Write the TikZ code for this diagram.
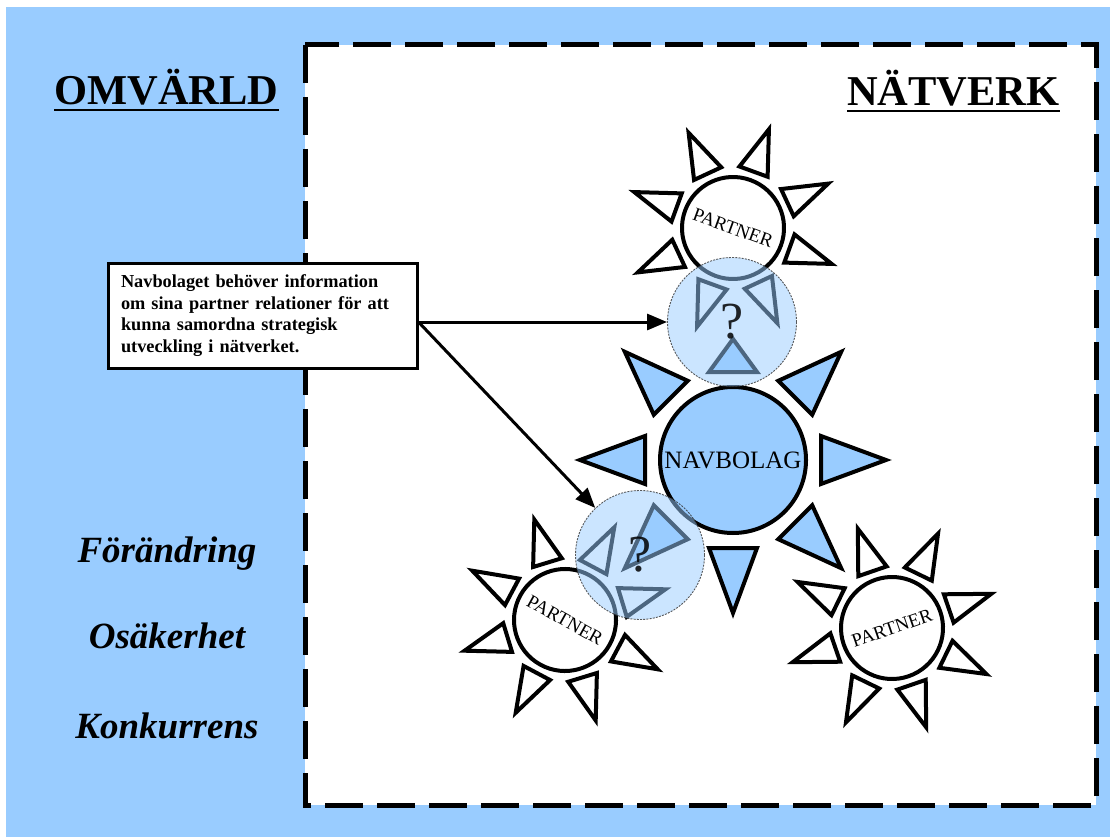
\documentclass[tikz,border=0pt]{standalone}
\usepackage{fontspec}
\setmainfont{Liberation Serif}
\usetikzlibrary{arrows.meta}
\definecolor{sky}{HTML}{99CCFF}

% eight triangular rays around a named circle node:
% #1 node, #2 start angle, #3 base radius, #4 tip radius, #5 half base width, #6 style
\newcommand\sunrays[6]{%
  \foreach \a in {0,45,...,315}{%
    \draw[#6, shift={(#1.center)}, rotate=#2+\a] (#4,0) -- (#3,#5) -- (#3,-#5) -- cycle;}}

\begin{document}
\begin{tikzpicture}[x=1pt,y=-1pt,
  ray/.style={draw=black, line width=4pt, fill=white, line join=miter},
  navray/.style={ray, fill=sky},
  partner/.style={circle, draw, line width=4pt, fill=white, minimum size=102pt,
    inner sep=0pt, font=\fontsize{19}{19}\selectfont},
  hub/.style={circle, draw, line width=4pt, fill=sky, minimum size=146pt,
    inner sep=0pt, font=\fontsize{25}{25}\selectfont},
  query/.style={circle, draw=black!80, line width=0.9pt, dash pattern=on 2pt off 1.2pt,
    fill=sky, fill opacity=0.5, draw opacity=0.8, text opacity=0.85,
    minimum size=129pt, inner sep=0pt, font=\fontsize{52}{52}\selectfont},
  heading/.style={font=\fontsize{42.5}{42.5}\selectfont\bfseries, inner sep=0pt, anchor=base west},
  threat/.style={font=\fontsize{37}{37}\selectfont\bfseries\itshape, inner sep=0pt, anchor=base},
  note/.style={draw, line width=3pt, fill=white, text width=283pt, inner xsep=13pt,
    minimum height=105pt, align=left, font=\fontsize{18.3}{21.7}\selectfont\bfseries},
  link/.style={line width=3pt, -{Triangle[length=20pt,width=16pt]}}
]
\useasboundingbox (0,0) rectangle (1110,837);
\fill[white] (0,0) rectangle (1110,837);
\fill[sky] (6,7) rectangle (1110,837);

% network area
\draw[line width=5pt, dash pattern=on 38pt off 14pt, fill=white] (305,45) rectangle (1096,805);

% headings
\node[heading] (om) at (54,105) {OMVÄRLD};
\node[heading] (nv) at (847,106) {NÄTVERK};
\draw[line width=2pt] ([yshift=-5pt]om.base west) -- ([yshift=-5pt]om.base east);
\draw[line width=2pt] ([yshift=-5pt]nv.base west) -- ([yshift=-5pt]nv.base east);

% environment forces
\node[threat] (f1) at (167,562) {Förändring};
\node[threat] (f2) at (167,648) {Osäkerhet};
\node[threat] (f3) at (167,738) {Konkurrens};

% partners
\node[partner, rotate=-20] (p1) at (733,228) {PARTNER};
\node[partner, rotate=-29] (p2) at (565,620) {PARTNER};
\node[partner, rotate=19]  (p3) at (892,628) {PARTNER};
\sunrays{p1}{25}{60}{105}{15}{ray}
\sunrays{p2}{17}{60}{105}{15}{ray}
\sunrays{p3}{19}{60}{105}{15}{ray}

% hub company
\node[hub] (hub) at (733,460) {NAVBOLAG};
\foreach \a in {0,45,135,180,225,270,315}{%
  \draw[navray, shift={(hub.center)}, rotate=\a] (153,0) -- (88,24) -- (88,-24) -- cycle;}
\draw[navray, shift={(hub.center)}, rotate=90] (121,0) -- (88,24) -- (88,-24) -- cycle;

% unknown partner relations
\node[query] (q1) at (732,322) {?};
\node[query] (q2) at (640,555) {?};

% note and arrows
\node[note] (note) at (262.5,315.5) {Navbolaget behöver information\\
om sina partner relationer för att\\
kunna samordna strategisk\\
utveckling i nätverket.};
\coordinate (src) at (note.east |- q1.west);
\draw[link] (src) -- (q1.west);
\draw[link] (src) -- (q2);
\end{tikzpicture}
\end{document}
